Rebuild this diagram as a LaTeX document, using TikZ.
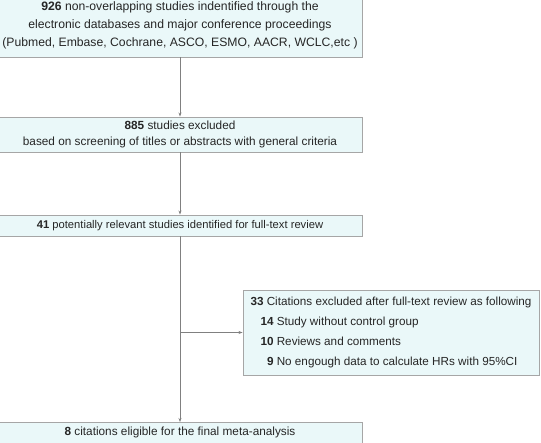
\documentclass[tikz,border=0pt]{standalone}
\usepackage{fontspec}
\setmainfont{Liberation Sans}
\usetikzlibrary{arrows.meta,calc}
\definecolor{boxfill}{HTML}{EAF8F9}
\definecolor{boxline}{HTML}{A6A6A6}

\begin{document}
\begin{tikzpicture}[
  x=1pt, y=-1pt,
  font=\fontsize{11.8}{14}\selectfont,
  >={Stealth[length=4pt,width=3pt]},
  flowbox/.style={rectangle, draw=boxline, fill=boxfill, line width=0.9pt, inner sep=0pt, text=black!85},
  flowarrow/.style={->, draw=gray, line width=0.6pt}
]
  \useasboundingbox (0,0) rectangle (541,443);
  \node[flowbox, minimum width=364pt, minimum height=64pt, align=center, font=\fontsize{12.2}{18}\selectfont] (found) at (180,25)
    {\textbf{926} non-overlapping studies indentified through the\\
     electronic databases and major conference proceedings\\
     (Pubmed, Embase, Cochrane, ASCO, ESMO, AACR, WCLC,etc )};
  \node[flowbox, minimum width=364pt, minimum height=35pt, align=center, font=\fontsize{11.8}{16}\selectfont] (screen) at (180,134.5)
    {\textbf{885} studies excluded\\
     based on screening of titles or abstracts with general criteria};
  \node[flowbox, minimum width=364pt, minimum height=21pt, font=\fontsize{11.2}{13}\selectfont] (fulltext) at (180,225.5)
    {\textbf{41} potentially relevant studies identified for full-text review};
  \node[flowbox, minimum width=296pt, minimum height=85pt, align=left, font=\fontsize{11.7}{20.3}\selectfont] (excluded) at (391,332.5)
    {\textbf{33} Citations excluded after full-text review as following\\
     \hspace*{10pt}\textbf{14} Study without control group\\
     \hspace*{10pt}\textbf{10} Reviews and comments\\
     \hspace*{10pt}\phantom{\textbf{1}}\textbf{9} No engough data to calculate HRs with 95\%CI};
  \node[flowbox, minimum width=364pt, anchor=north, inner ysep=4pt, text depth=7pt] (final) at (180,422)
    {\textbf{8} citations eligible for the final meta-analysis};

  \coordinate (fork) at (fulltext.south |- excluded.west);
  \draw[flowarrow] (found) -- (screen);
  \draw[flowarrow] (screen) -- (fulltext);
  \draw[flowarrow] (fulltext) -- (final);
  \draw[flowarrow] (fork) -- (excluded);
\end{tikzpicture}
\end{document}
